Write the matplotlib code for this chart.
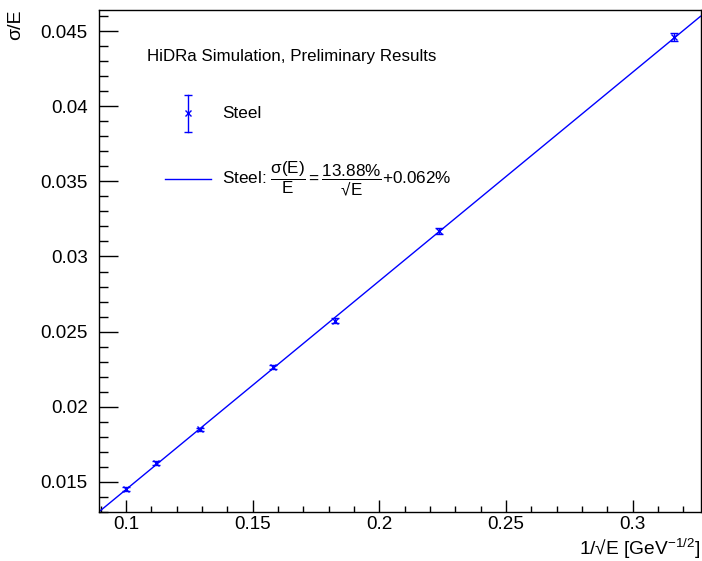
import matplotlib
matplotlib.use("Agg")
import matplotlib.pyplot as plt
from matplotlib.ticker import MultipleLocator, FormatStrFormatter
from matplotlib.lines import Line2D

plt.rcParams['font.family'] = ['Liberation Sans', 'DejaVu Sans']
plt.rcParams['mathtext.fontset'] = 'custom'
plt.rcParams['mathtext.rm'] = 'Liberation Sans'
plt.rcParams['mathtext.it'] = 'Liberation Sans'
plt.rcParams['mathtext.bf'] = 'Liberation Sans:bold'

# beam energies in GeV and resolution for the steel absorber
energy = [100, 80, 60, 40, 30, 20, 10]
inv_sqrt_e = [e ** -0.5 for e in energy]
resolution = [0.01453, 0.01625, 0.0185, 0.02263, 0.02572, 0.0317, 0.04463]
resolution_err = [0.00012, 0.00012, 0.00012, 0.00013, 0.00017, 0.0002, 0.00026]

# fit result: sigma/E = a/sqrt(E) + b
fit_a = 0.1388
fit_b = 0.00062

blue = (0, 0, 1)

fig = plt.figure(figsize=(7.02, 5.61), dpi=100)
ax = fig.add_axes([0.141, 0.0865, 0.8569, 0.8965])

xmin, xmax = 0.0893, 0.3268
ymin, ymax = 0.01297, 0.04643

fx = [xmin, xmax]
ax.plot(fx, [fit_a * x + fit_b for x in fx], color=blue, lw=1.0)

ax.errorbar(inv_sqrt_e, resolution, yerr=resolution_err, fmt='x', color=blue,
            ms=4.5, mew=1.0, elinewidth=1.0, capsize=2.9, capthick=1.0)

ax.set_xlim(xmin, xmax)
ax.set_ylim(ymin, ymax)

ax.xaxis.set_major_locator(MultipleLocator(0.05))
ax.xaxis.set_minor_locator(MultipleLocator(0.01))
ax.yaxis.set_major_locator(MultipleLocator(0.005))
ax.yaxis.set_minor_locator(MultipleLocator(0.001))
ax.xaxis.set_major_formatter(FormatStrFormatter('%g'))
ax.yaxis.set_major_formatter(FormatStrFormatter('%g'))

ax.tick_params(axis='both', which='both', direction='in', width=1.0,
               labelsize=13.6, top=False, right=False)
ax.tick_params(axis='x', which='major', length=8.6, pad=2.5)
ax.tick_params(axis='x', which='minor', length=4.3)
ax.tick_params(axis='y', which='major', length=13.7, pad=8)
ax.tick_params(axis='y', which='minor', length=6.8)
for s in ax.spines.values():
    s.set_linewidth(1.0)

fig.text(0.998, 0.0, r"1/√E [GeV$^{-1/2}$]", ha='right',
         va='bottom', fontsize=13.8)
fig.text(0.022, 0.983, "σ/E", rotation=90, ha='center', va='top', fontsize=14)

ax.text(0.0798, 0.907, "HiDRa Simulation, Preliminary Results",
        transform=ax.transAxes, ha='left', va='center', fontsize=12.2)

# legend entries
tr = ax.transAxes
ax.add_line(Line2D([0.148, 0.148], [0.757, 0.830], color=blue, lw=1.0, transform=tr))
ax.add_line(Line2D([0.148], [0.757], marker='_', ms=5.8, mew=1.0, color=blue, transform=tr))
ax.add_line(Line2D([0.148], [0.830], marker='_', ms=5.8, mew=1.0, color=blue, transform=tr))
ax.add_line(Line2D([0.148], [0.794], marker='x', ms=4.5, mew=1.0, color=blue, transform=tr))
ax.text(0.2045, 0.794, "Steel", transform=tr, ha='left', va='center', fontsize=12.3)

ax.add_line(Line2D([0.1097, 0.186], [0.663, 0.663], color=blue, lw=1.0, transform=tr))
ax.text(0.2045, 0.663,
        r"Steel: $\dfrac{\sigma(E)}{E} = \dfrac{13.88\%}{√E}$+0.062%",
        transform=tr, ha='left', va='center', fontsize=12.3)

fig.savefig("out.png", dpi=100)
